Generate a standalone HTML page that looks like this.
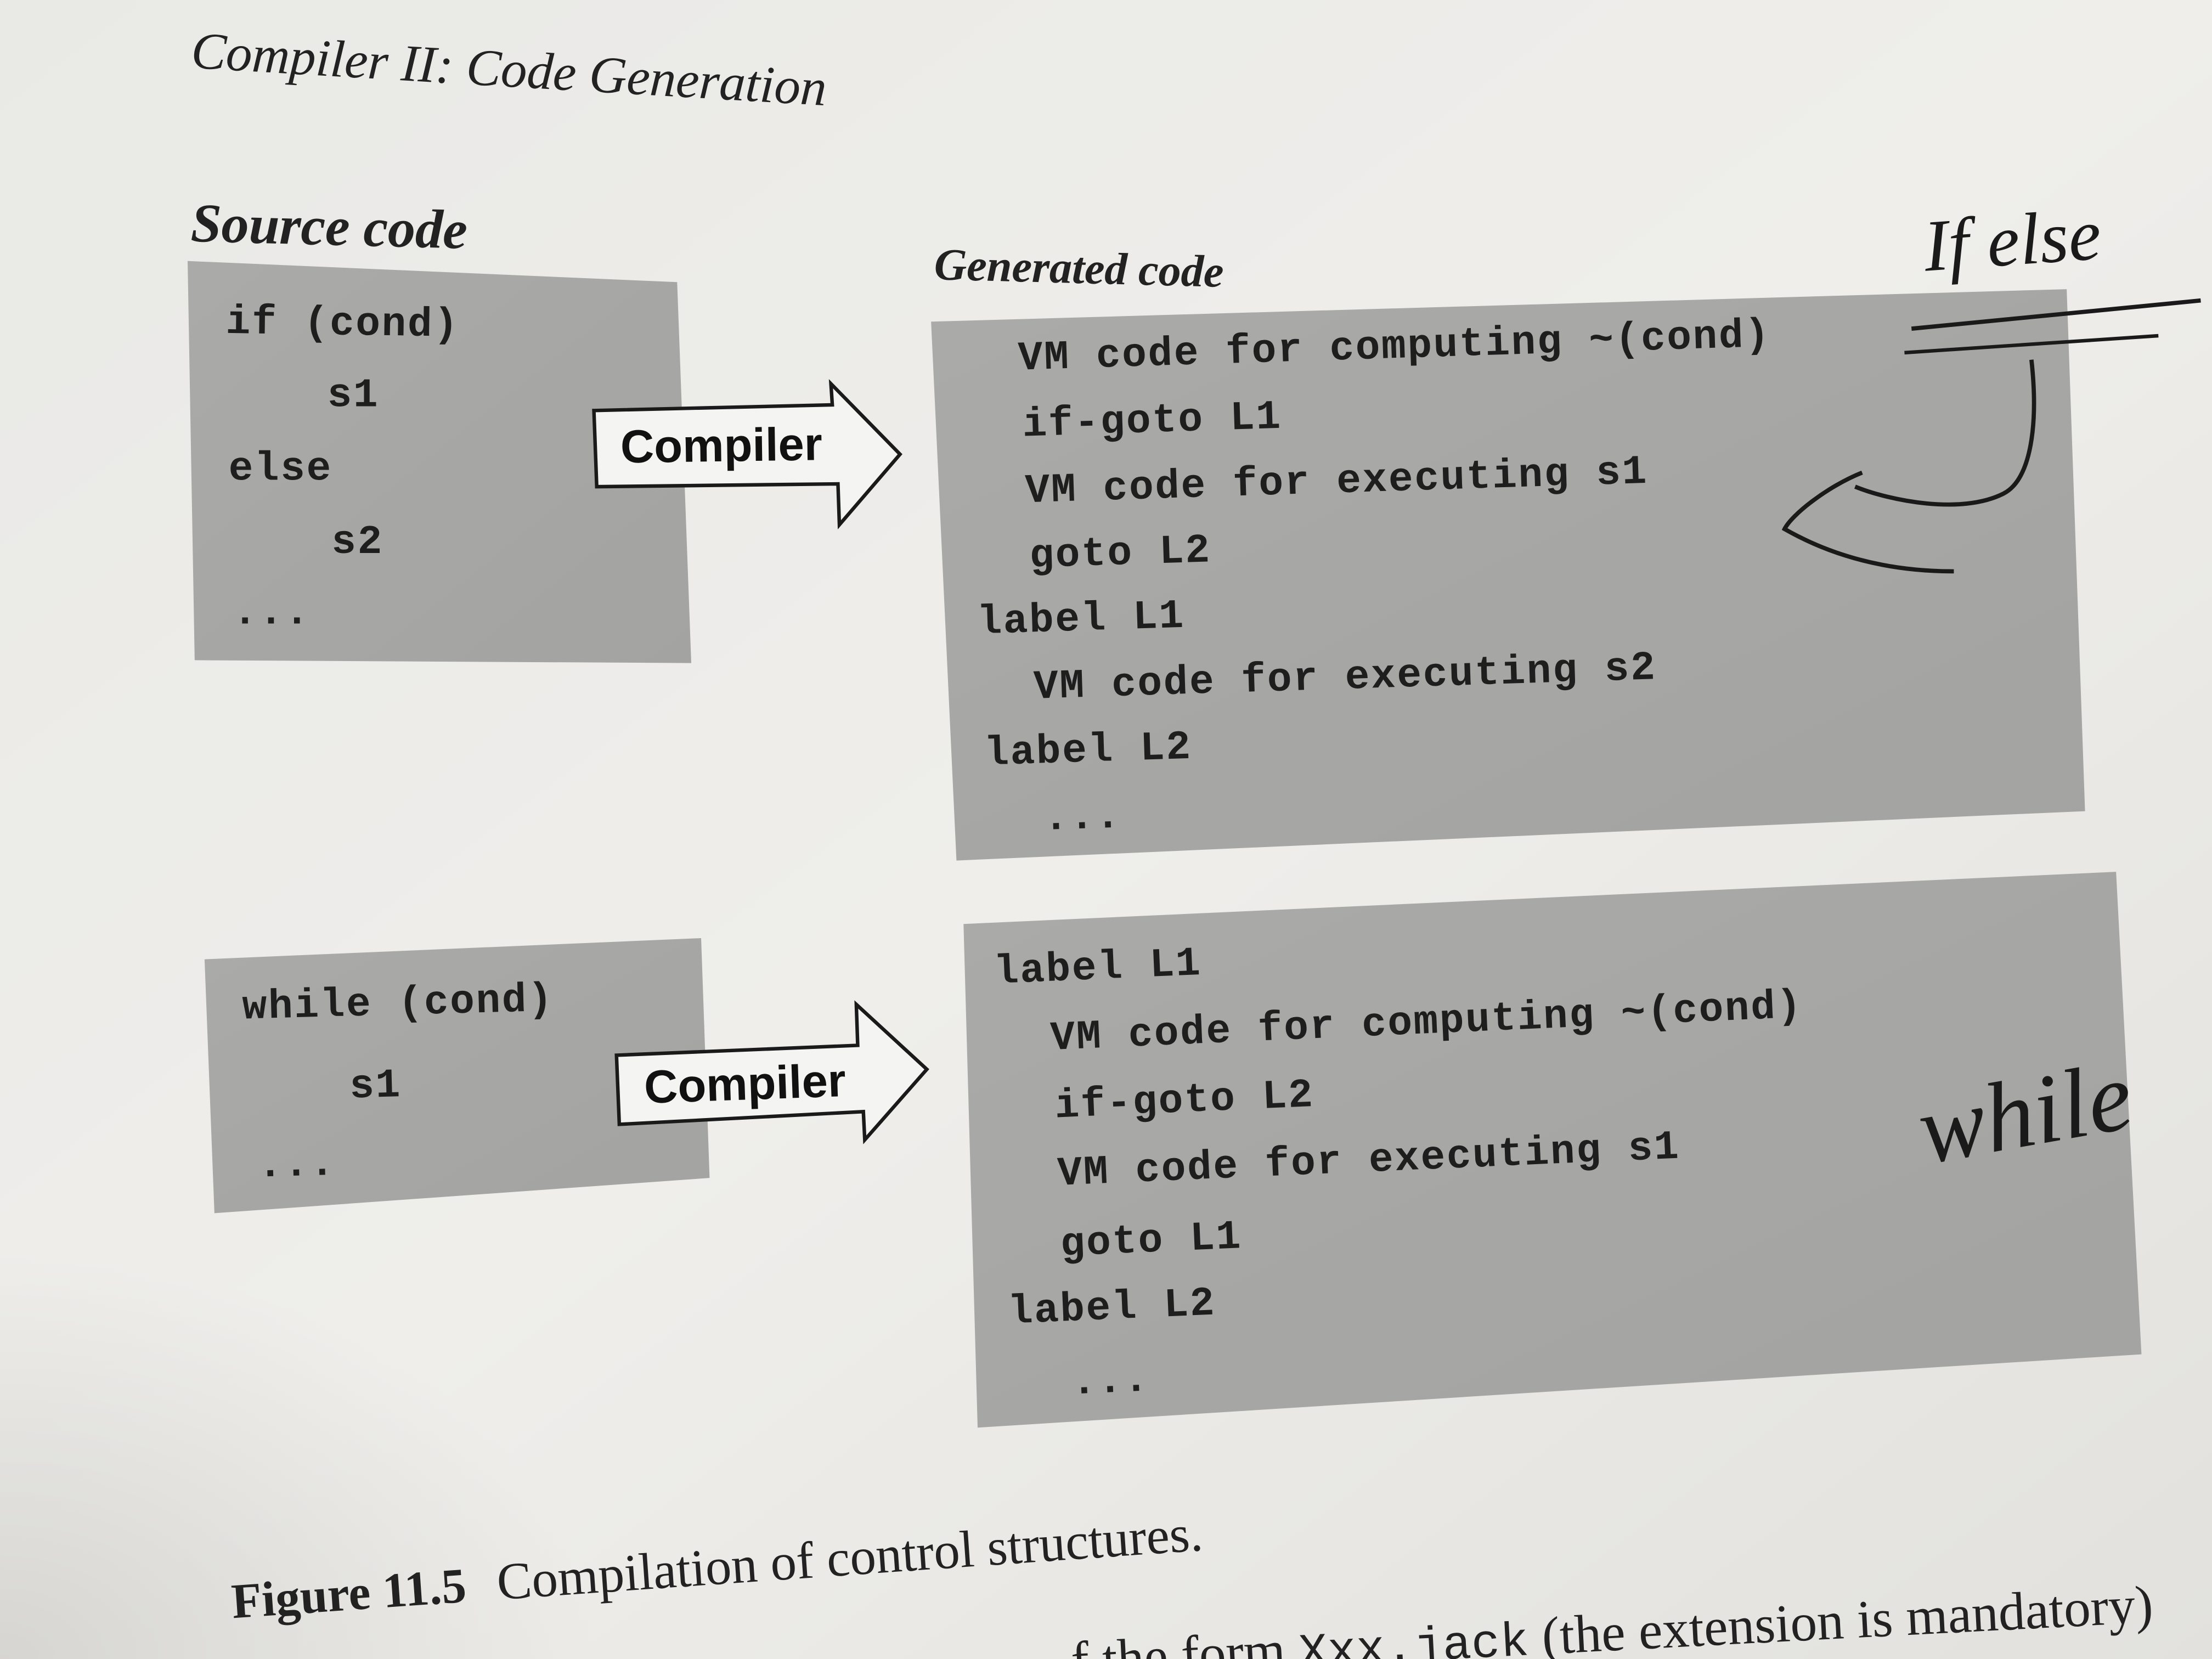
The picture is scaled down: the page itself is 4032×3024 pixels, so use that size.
<!DOCTYPE html>
<html><head><meta charset="utf-8">
<style>
html,body{margin:0;padding:0;width:4032px;height:3024px;overflow:hidden;background:#ecebe8}
svg{display:block}
.mono{font-family:"Liberation Mono",monospace;fill:#1e1e1e;font-size:29px;font-weight:bold;letter-spacing:1px}
.ser{font-family:"Liberation Serif",serif;fill:#222}
</style></head><body>
<svg width="4032" height="3024" viewBox="0 0 1568 1176" xmlns="http://www.w3.org/2000/svg">
<defs>
<linearGradient id="pg" x1="0" y1="0" x2="1" y2="1">
<stop offset="0" stop-color="#e9e9e6"/><stop offset="0.5" stop-color="#efeeeb"/><stop offset="1" stop-color="#e2e1dd"/>
</linearGradient>
<radialGradient id="sh" cx="0" cy="1" r="0.6">
<stop offset="0" stop-color="#d6d5d1"/><stop offset="1" stop-color="#d6d5d1" stop-opacity="0"/>
</radialGradient>
<linearGradient id="bx" x1="0" y1="0" x2="1" y2="1">
<stop offset="0" stop-color="#aaaaa8"/><stop offset="1" stop-color="#a3a3a1"/>
</linearGradient>
</defs>
<rect x="0" y="0" width="1568" height="1176" fill="url(#pg)"/>
<rect x="0" y="700" width="700" height="476" fill="url(#sh)"/>

<text class="ser" x="135" y="48" font-size="37" font-style="italic" transform="rotate(3.4 135 48)">Compiler II: Code Generation</text>
<text class="ser" x="135" y="171" font-size="39" font-style="italic" font-weight="bold" transform="rotate(1.5 135 171)">Source code</text>
<text class="ser" x="662" y="198" font-size="32" font-style="italic" font-weight="bold" transform="rotate(1.5 662 198)">Generated code</text>

<polygon points="133,185 480,200 490,470 138,468" fill="url(#bx)"/>
<polygon points="660,228 1465,205 1478,575 678,610" fill="url(#bx)"/>
<polygon points="145,680 497,665 503,835 152,860" fill="url(#bx)"/>
<polygon points="683,655 1500,618 1518,960 693,1012" fill="url(#bx)"/>

<g>
<text class="mono" x="160" y="236" transform="rotate(0.8 160 236)">if (cond)</text>
<text class="mono" x="232" y="288">s1</text>
<text class="mono" x="162" y="340">else</text>
<text class="mono" x="235" y="392">s2</text>
<text class="mono" x="165" y="442">...</text>
</g>

<g>
<text class="mono" x="722" y="262" transform="rotate(-1.8 722 262)">VM code for computing ~(cond)</text>
<text class="mono" x="725" y="309" transform="rotate(-1.8 725 309)">if-goto L1</text>
<text class="mono" x="727" y="356" transform="rotate(-1.8 727 356)">VM code for executing s1</text>
<text class="mono" x="730" y="402" transform="rotate(-1.8 730 402)">goto L2</text>
<text class="mono" x="693" y="449" transform="rotate(-1.8 693 449)">label L1</text>
<text class="mono" x="733" y="495" transform="rotate(-1.8 733 495)">VM code for executing s2</text>
<text class="mono" x="698" y="542" transform="rotate(-1.8 698 542)">label L2</text>
<text class="mono" x="740" y="588" transform="rotate(-1.8 740 588)">...</text>
</g>

<g>
<text class="mono" x="172" y="722" transform="rotate(-1.5 172 722)">while (cond)</text>
<text class="mono" x="248" y="778" transform="rotate(-1.5 248 778)">s1</text>
<text class="mono" x="183" y="834" transform="rotate(-1.5 183 834)">...</text>
</g>

<g>
<text class="mono" x="705" y="697" transform="rotate(-2.5 705 697)">label L1</text>
<text class="mono" x="745" y="744" transform="rotate(-2.5 745 744)">VM code for computing ~(cond)</text>
<text class="mono" x="748" y="792" transform="rotate(-2.5 748 792)">if-goto L2</text>
<text class="mono" x="750" y="840" transform="rotate(-2.5 750 840)">VM code for executing s1</text>
<text class="mono" x="752" y="890" transform="rotate(-2.5 752 890)">goto L1</text>
<text class="mono" x="715" y="938" transform="rotate(-2.5 715 938)">label L2</text>
<text class="mono" x="760" y="988" transform="rotate(-2.5 760 988)">...</text>
</g>

<g>
<polygon points="421,291 590,287 589,272 638,322 595,372 594,343 423,345" fill="#f4f4f2" stroke="#1a1a1a" stroke-width="2.5"/>
<text x="440" y="328" font-family="Liberation Sans,sans-serif" font-weight="bold" font-size="33" fill="#111" transform="rotate(-0.8 440 328)">Compiler</text>
</g>
<g>
<polygon points="437,748 608,741 607,712 657,758 613,808 612,788 439,797" fill="#f4f4f2" stroke="#1a1a1a" stroke-width="2.5"/>
<text x="457" y="782" font-family="Liberation Sans,sans-serif" font-weight="bold" font-size="33" fill="#111" transform="rotate(-2 457 782)">Compiler</text>
</g>

<g>
<text x="1365" y="192" font-family="Liberation Serif,serif" font-style="italic" font-size="52" fill="#1a1a1a" transform="rotate(-4 1365 192)">If else</text>
<path d="M1355,233 L1560,213" stroke="#1a1a1a" stroke-width="3" fill="none"/>
<path d="M1350,250 L1530,238" stroke="#1a1a1a" stroke-width="2.5" fill="none"/>
<path d="M1440,255 C1445,300 1440,340 1420,350 C1390,365 1340,355 1315,345 M1320,335 C1295,345 1270,365 1265,375 C1300,395 1340,405 1385,405" stroke="#1a1a1a" stroke-width="3" fill="none"/>
</g>
<text x="1365" y="825" font-family="Liberation Serif,serif" font-style="italic" font-size="70" fill="#1a1a1a" transform="rotate(-10 1365 825)">while</text>

<g transform="rotate(-4 165 1147)">
<text class="ser" x="165" y="1147" font-size="37"><tspan font-weight="bold" font-size="35">Figure 11.5</tspan><tspan dx="22">Compilation of control structures.</tspan></text>
</g>
<text class="ser" x="760" y="1190" font-size="38" transform="rotate(-3 760 1190)">f the form <tspan font-family="Liberation Mono,monospace" font-size="34">Xxx.jack</tspan> (the extension is mandatory)</text>
</svg>
</body></html>
